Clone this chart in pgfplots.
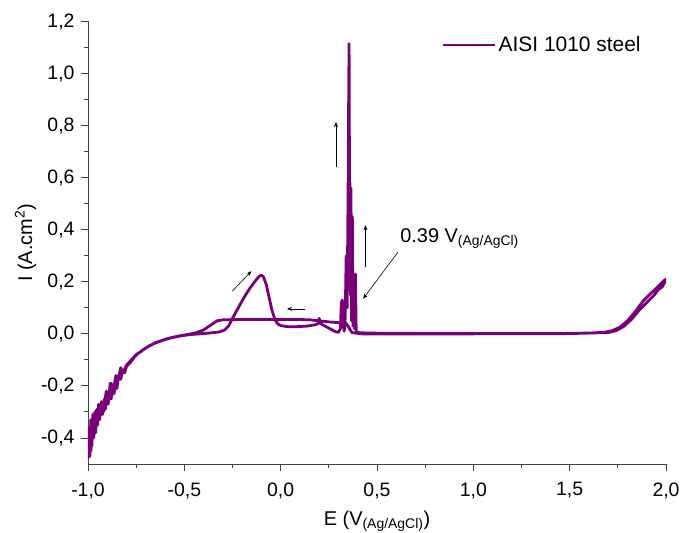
\documentclass[border=0pt]{standalone}
\usepackage{fontspec}
\setmainfont{Liberation Sans}
\usepackage{pgfplots}
\pgfplotsset{compat=1.18}
\usetikzlibrary{arrows.meta}
\definecolor{cvpurple}{RGB}{120,0,120}
\pgfplotstableread{
E I
-1.000 -0.44
-0.995 -0.36
-0.990 -0.47
-0.985 -0.33
-0.980 -0.43
-0.975 -0.31
-0.970 -0.40
-0.965 -0.30
-0.960 -0.38
-0.955 -0.29
-0.950 -0.35
-0.945 -0.27
-0.940 -0.33
-0.930 -0.27
-0.925 -0.31
-0.915 -0.25
-0.910 -0.29
-0.900 -0.24
-0.895 -0.27
-0.885 -0.19
-0.880 -0.25
-0.870 -0.20
-0.865 -0.23
-0.855 -0.18
-0.850 -0.21
-0.840 -0.16
-0.830 -0.175
-0.820 -0.14
-0.810 -0.15
-0.800 -0.125
-0.780 -0.11
-0.760 -0.09
-0.740 -0.075
-0.720 -0.065
-0.700 -0.055
-0.680 -0.045
-0.650 -0.035
-0.620 -0.027
-0.600 -0.022
-0.560 -0.014
-0.520 -0.008
-0.480 -0.004
-0.440 -0.001
-0.400 0.001
-0.360 0.004
-0.320 0.007
-0.290 0.015
-0.270 0.030
-0.250 0.060
-0.220 0.100
-0.190 0.140
-0.160 0.175
-0.130 0.205
-0.110 0.222
-0.100 0.225
-0.090 0.220
-0.075 0.190
-0.060 0.140
-0.045 0.090
-0.030 0.055
-0.015 0.038
0.000 0.032
0.030 0.028
0.060 0.027
0.100 0.028
0.140 0.030
0.180 0.035
0.195 0.040
0.200 0.060
0.205 0.040
0.230 0.030
0.260 0.018
0.285 0.008
0.300 0.006
0.310 0.020
0.315 0.120
0.320 0.130
0.325 0.030
0.330 0.010
0.335 0.060
0.340 0.300
0.345 0.100
0.350 0.550
0.352 0.800
0.355 1.115
0.358 0.400
0.360 0.580
0.362 0.150
0.365 0.560
0.368 0.050
0.372 0.450
0.375 0.030
0.380 0.200
0.383 0.020
0.388 0.230
0.392 0.010
0.400 0.005
0.450 0.003
0.600 0.002
1.000 0.001
1.400 0.001
1.600 0.003
1.680 0.006
1.720 0.012
1.760 0.025
1.800 0.050
1.840 0.085
1.880 0.125
1.920 0.155
1.950 0.175
1.970 0.190
1.990 0.205
2.000 0.210
1.995 0.200
1.980 0.180
1.960 0.170
1.940 0.150
1.900 0.120
1.860 0.090
1.820 0.055
1.780 0.028
1.740 0.012
1.700 0.005
1.500 0.001
1.000 0.000
0.600 0.000
0.420 0.000
0.370 0.005
0.340 0.040
0.300 0.043
0.250 0.046
0.200 0.050
0.150 0.054
0.100 0.055
0.000 0.055
-0.100 0.055
-0.200 0.055
-0.300 0.054
-0.330 0.050
-0.360 0.035
-0.400 0.015
-0.440 0.004
-0.480 -0.002
-0.520 -0.007
-0.560 -0.013
-0.600 -0.021
-0.650 -0.034
-0.700 -0.054
-0.750 -0.080
-0.800 -0.120
-0.820 -0.150
-0.830 -0.130
-0.845 -0.180
-0.855 -0.160
-0.870 -0.220
-0.880 -0.190
-0.895 -0.260
-0.905 -0.220
-0.920 -0.300
-0.930 -0.260
-0.945 -0.330
-0.955 -0.290
-0.965 -0.380
-0.975 -0.340
-0.985 -0.450
-0.992 -0.400
-1.000 -0.480
}\cvdata
\begin{document}
\begin{tikzpicture}
\begin{axis}[
  scale only axis,
  width=578bp, height=442.5bp,
  xmin=-1, xmax=2, ymin=-0.5, ymax=1.2,
  axis lines*=left,
  axis line style={line width=0.9bp, black!75},
  tick align=outside,
  major tick length=7bp, minor tick length=4bp,
  tick style={line width=0.9bp, black!75},
  xtick={-1,-0.5,...,2}, minor x tick num=1,
  ytick={-0.4,-0.2,0,0.2,0.4,0.6,0.8,1.0,1.2}, minor y tick num=1,
  /pgf/number format/assume math mode=true,
  /pgf/number format/.cd, use comma, fixed, fixed zerofill, precision=1,
  /pgfplots/.cd,
  tick label style={font=\fontsize{19.5}{23}\selectfont},
  xticklabel style={yshift=-8bp},
  yticklabel style={xshift=-3bp},
  label style={font=\fontsize{20}{24}\selectfont},
  xlabel={E (V\textsubscript{(Ag/AgCl)})},
  ylabel={I (A.cm\textsuperscript{2})},
  xlabel style={yshift=-6bp},
  ylabel style={yshift=-2bp},
  legend style={draw=none, fill=none, at={(0.965,0.975)}, anchor=north east, font=\fontsize{21}{25}\selectfont},
  legend image code/.code={\draw[#1] (0bp,0bp) -- (52bp,0bp);},
]
\addplot[color=cvpurple, line width=2.8bp, line join=round] table[x=E, y=I] {\cvdata};
\addlegendentry{AISI 1010 steel}
\draw[-{Stealth[length=5bp,width=4bp]}, line width=0.6bp] (axis cs:-0.251,0.164) -- (axis cs:-0.152,0.241);
\draw[-{Stealth[length=5bp,width=4bp]}, line width=0.6bp] (axis cs:0.127,0.096) -- (axis cs:0.033,0.096);
\draw[-{Stealth[length=5bp,width=4bp]}, line width=0.6bp] (axis cs:0.287,0.641) -- (axis cs:0.287,0.814);
\draw[-{Stealth[length=5bp,width=4bp]}, line width=0.6bp] (axis cs:0.44,0.256) -- (axis cs:0.44,0.417);
\draw[-{Stealth[length=5bp,width=4bp]}, line width=0.6bp] (axis cs:0.609,0.314) -- (axis cs:0.428,0.135);
\node[anchor=base west, font=\fontsize{20}{24}\selectfont, inner sep=0pt] at (axis cs:0.62,0.35) {0.39 V\textsubscript{(Ag/AgCl)}};
\end{axis}
\pgfresetboundingbox
\path[use as bounding box] (current axis.south west) ++(-88bp,-69bp) rectangle ++(683bp,533bp);
\end{tikzpicture}
\end{document}
